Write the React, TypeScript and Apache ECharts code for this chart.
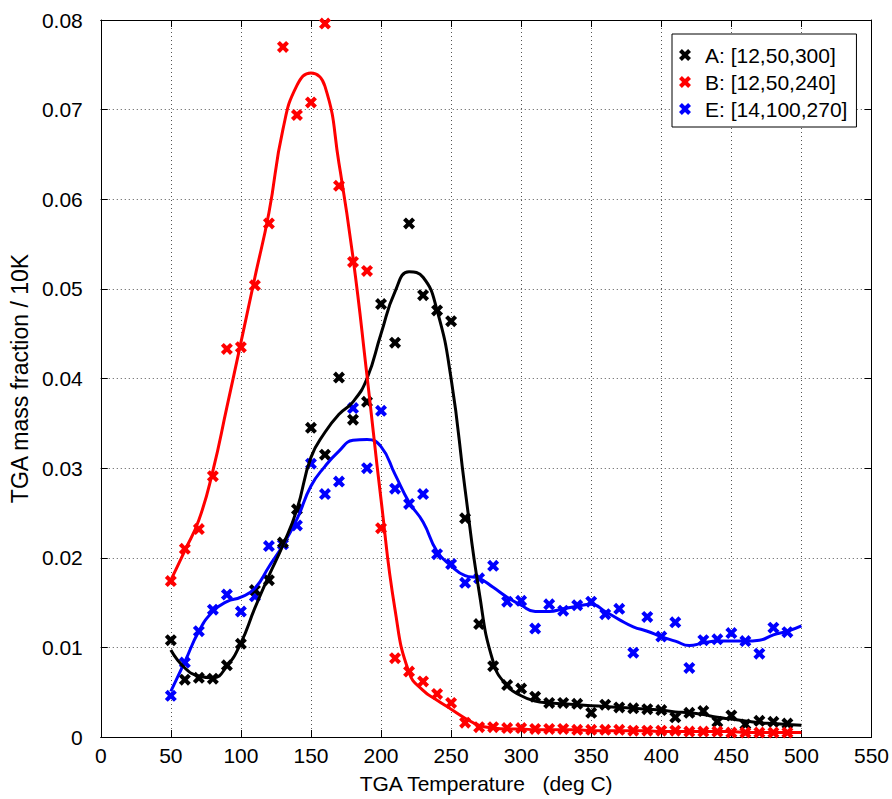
import React, { useEffect, useRef } from "react";
import * as echarts from "echarts";

// Measured temperatures (deg C) of the data points
const tempPts = [50, 60, 70, 80, 90, 100, 110, 120, 130, 140, 150, 160, 170, 180, 190, 200, 210, 220, 230, 240, 250, 260, 270, 280, 290, 300, 310, 320, 330, 340, 350, 360, 370, 380, 390, 400, 410, 420, 430, 440, 450, 460, 470, 480, 490];

const aPts = [0.0108, 0.0064, 0.0066, 0.0065, 0.0080, 0.0104, 0.0164, 0.0175, 0.0217, 0.0254, 0.0345, 0.0315, 0.0401, 0.0354, 0.0374, 0.0483, 0.0440, 0.0573, 0.0493, 0.0476, 0.0464, 0.0244, 0.0126, 0.0079, 0.0058, 0.0054, 0.0045, 0.0038, 0.0038, 0.0037, 0.0027, 0.0036, 0.0033, 0.0032, 0.0031, 0.0030, 0.0022, 0.0027, 0.0029, 0.0017, 0.0024, 0.0014, 0.0018, 0.0017, 0.0015];

const bPts = [0.0174, 0.0210, 0.0232, 0.0291, 0.0433, 0.0435, 0.0504, 0.0573, 0.0770, 0.0694, 0.0708, 0.0796, 0.0615, 0.0530, 0.0520, 0.0233, 0.0088, 0.0073, 0.0062, 0.0048, 0.0038, 0.0016, 0.0011, 0.0011, 0.0010, 0.0010, 0.0009, 0.0009, 0.0009, 0.0008, 0.0008, 0.0008, 0.0008, 0.0007, 0.0007, 0.0007, 0.0007, 0.0006, 0.0006, 0.0006, 0.0005, 0.0005, 0.0005, 0.0005, 0.0005];

const ePts = [0.0046, 0.0083, 0.0118, 0.0142, 0.0159, 0.0140, 0.0157, 0.0213, 0.0215, 0.0236, 0.0305, 0.0271, 0.0285, 0.0367, 0.0300, 0.0364, 0.0277, 0.0260, 0.0271, 0.0204, 0.0193, 0.0172, 0.0177, 0.0191, 0.0151, 0.0152, 0.0121, 0.0148, 0.0141, 0.0147, 0.0151, 0.0137, 0.0143, 0.0094, 0.0134, 0.0112, 0.0128, 0.0077, 0.0108, 0.0109, 0.0116, 0.0107, 0.0093, 0.0122, 0.0117];

// Smoothed fit curves
const tempFit = [50, 60, 70, 80, 90, 100, 110, 120, 130, 140, 150, 160, 170, 180, 190, 200, 210, 220, 230, 240, 250, 260, 270, 280, 290, 300, 310, 320, 330, 340, 350, 360, 370, 380, 390, 400, 410, 420, 430, 440, 450, 460, 470, 480, 490, 500];

const aFit = [0.0097, 0.0077, 0.0068, 0.0066, 0.0079, 0.0105, 0.0144, 0.0180, 0.0214, 0.0254, 0.0312, 0.0340, 0.0360, 0.0374, 0.0400, 0.0450, 0.0497, 0.0519, 0.0513, 0.0476, 0.0400, 0.0276, 0.0162, 0.0084, 0.0057, 0.0046, 0.0040, 0.0038, 0.0037, 0.0036, 0.0035, 0.0034, 0.0033, 0.0032, 0.0031, 0.0030, 0.0028, 0.0027, 0.0025, 0.0022, 0.0020, 0.0018, 0.0016, 0.0015, 0.0014, 0.0013];

const bFit = [0.0175, 0.0208, 0.0242, 0.0297, 0.0368, 0.0440, 0.0513, 0.0585, 0.0678, 0.0727, 0.0741, 0.0726, 0.0640, 0.0535, 0.0403, 0.0265, 0.0142, 0.0072, 0.0052, 0.0041, 0.0031, 0.0021, 0.0013, 0.0010, 0.0009, 0.0009, 0.0008, 0.0008, 0.0008, 0.0008, 0.0007, 0.0007, 0.0007, 0.0007, 0.0007, 0.0006, 0.0006, 0.0006, 0.0006, 0.0006, 0.0006, 0.0005, 0.0005, 0.0005, 0.0005, 0.0005];

const eFit = [0.0051, 0.0084, 0.0118, 0.0140, 0.0151, 0.0156, 0.0166, 0.0190, 0.0214, 0.0243, 0.0280, 0.0302, 0.0319, 0.0331, 0.0332, 0.0324, 0.0293, 0.0262, 0.0240, 0.0207, 0.0191, 0.0180, 0.0177, 0.0167, 0.0156, 0.0147, 0.0140, 0.0140, 0.0143, 0.0146, 0.0148, 0.0140, 0.0131, 0.0123, 0.0118, 0.0112, 0.0107, 0.0102, 0.0105, 0.0107, 0.0107, 0.0107, 0.0108, 0.0114, 0.0118, 0.0124];

const seriesNames = ["A: [12,50,300]", "B: [12,50,240]", "E: [14,100,270]"];
const seriesColors = ["#000000", "#ff0000", "#0000ff"];

const xAxisTitle = "TGA Temperature   (deg C)";
const yAxisTitle = "TGA mass fraction / 10K";

const X_MARK = "path://M0,2.4L2.4,0L5,2.6L7.6,0L10,2.4L7.4,5L10,7.6L7.6,10L5,7.4L2.4,10L0,7.6L2.6,5Z";
const FONT = "'Liberation Sans', Arial, Helvetica, sans-serif";

function pair(xs: number[], ys: number[]) {
  return ys.map((y, i) => [xs[i], y]);
}

export default function App() {
  const ref = useRef<HTMLDivElement>(null);

  useEffect(() => {
    if (!ref.current) return;
    const chart = echarts.init(ref.current, undefined, { renderer: "svg" });

    const pts = [aPts, bPts, ePts];
    const fits = [aFit, bFit, eFit];
    const order = [2, 0, 1]; // draw E first, then A, then B on top

    const series: any[] = [];
    order.forEach((k) => {
      series.push({
        name: seriesNames[k],
        type: "scatter",
        data: pair(tempPts, pts[k]),
        symbol: X_MARK,
        symbolSize: 12,
        itemStyle: { color: seriesColors[k], opacity: 1 },
        xAxisIndex: 0,
        yAxisIndex: 0,
      });
      series.push({
        name: seriesNames[k] + " fit",
        type: "line",
        data: pair(tempFit, fits[k]),
        smooth: 0.5,
        showSymbol: false,
        symbol: "none",
        lineStyle: { color: seriesColors[k], width: 3 },
        itemStyle: { color: seriesColors[k] },
        xAxisIndex: 0,
        yAxisIndex: 0,
      });
    });

    const gridSplit = { show: true, lineStyle: { color: "#555", type: [1, 3] as any, width: 1 } };

    chart.setOption({
      animation: false,
      backgroundColor: "#ffffff",
      textStyle: { fontFamily: FONT },
      grid: { left: 93, right: 19, top: 20, bottom: 56, containLabel: false },
      legend: {
        data: seriesNames,
        orient: "vertical",
        left: 672,
        top: 34,
        padding: [10, 9, 7, 7],
        itemGap: 5,
        itemWidth: 30,
        itemHeight: 12,
        borderColor: "#000",
        borderWidth: 1,
        backgroundColor: "#fff",
        itemStyle: { opacity: 1 },
        textStyle: { fontSize: 21, color: "#000", fontFamily: FONT, lineHeight: 22 },
        selectedMode: false,
      },
      xAxis: [
        {
          type: "value",
          min: 0,
          max: 550,
          interval: 50,
          position: "bottom",
          name: xAxisTitle,
          nameLocation: "middle",
          nameGap: 36,
          nameTextStyle: { fontSize: 21, color: "#000", fontFamily: FONT },
          axisLine: { show: true, onZero: false, lineStyle: { color: "#000", width: 1 } },
          axisTick: { show: true, inside: true, length: 7, lineStyle: { color: "#000" } },
          axisLabel: { fontSize: 21, color: "#000", margin: 8, fontFamily: FONT },
          splitLine: gridSplit,
        },
        {
          type: "value",
          min: 0,
          max: 550,
          interval: 50,
          position: "top",
          axisLine: { show: true, onZero: false, lineStyle: { color: "#000", width: 1 } },
          axisTick: { show: true, inside: true, length: 7, lineStyle: { color: "#000" } },
          axisLabel: { show: false },
          splitLine: { show: false },
        },
      ],
      yAxis: [
        {
          type: "value",
          min: 0,
          max: 0.08,
          interval: 0.01,
          position: "left",
          name: yAxisTitle,
          nameLocation: "middle",
          nameGap: 61,
          nameRotate: 90,
          nameTextStyle: { fontSize: 23, color: "#000", fontFamily: FONT },
          axisLine: { show: true, onZero: false, lineStyle: { color: "#000", width: 1 } },
          axisTick: { show: true, inside: true, length: 7, lineStyle: { color: "#000" } },
          axisLabel: { fontSize: 21, color: "#000", margin: 18, fontFamily: FONT },
          splitLine: gridSplit,
        },
        {
          type: "value",
          min: 0,
          max: 0.08,
          interval: 0.01,
          position: "right",
          axisLine: { show: true, onZero: false, lineStyle: { color: "#000", width: 1 } },
          axisTick: { show: true, inside: true, length: 7, lineStyle: { color: "#000" } },
          axisLabel: { show: false },
          splitLine: { show: false },
        },
      ],
      series,
    });

    return () => chart.dispose();
  }, []);

  return (
    <div
      ref={ref}
      style={{ position: "absolute", left: 0, top: 0, width: 892, height: 799, background: "#fff" }}
    />
  );
}
